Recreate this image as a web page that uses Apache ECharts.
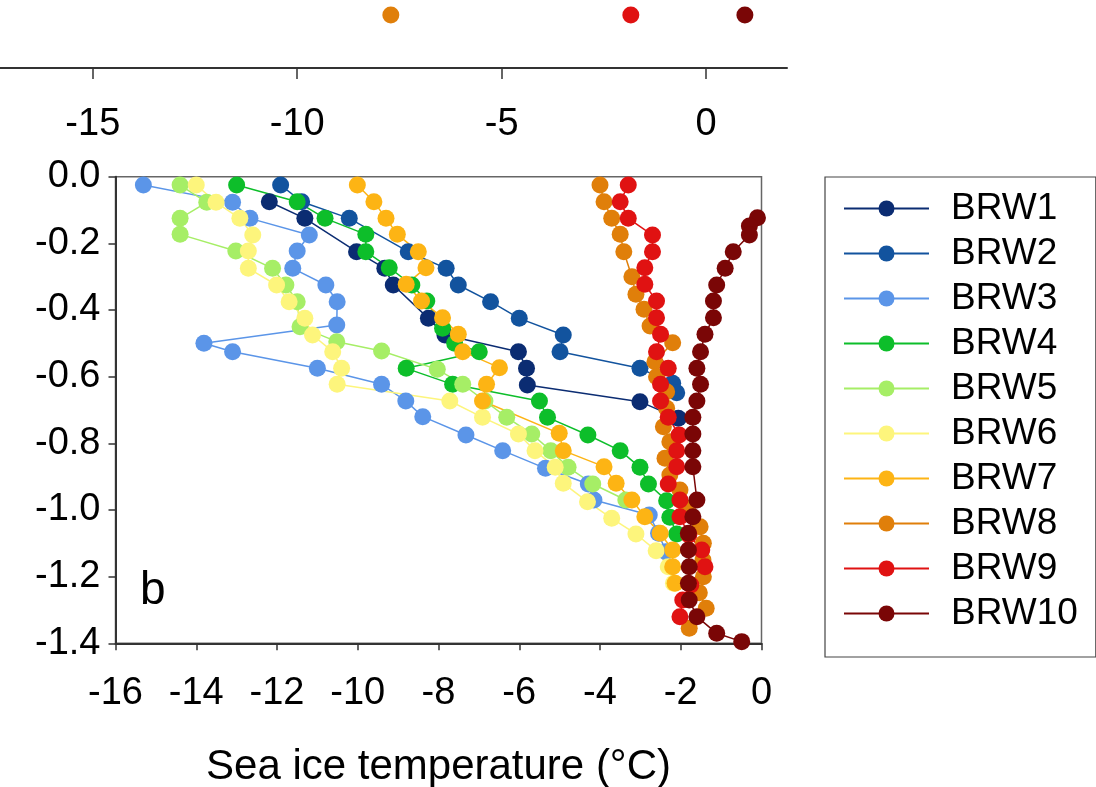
<!DOCTYPE html>
<html>
<head>
<meta charset="utf-8">
<script src="https://cdn.jsdelivr.net/npm/echarts@6/dist/echarts.min.js"></script>
<style>
html,body{margin:0;padding:0;background:#fff;}
#chart{width:1096px;height:787px;}
</style>
</head>
<body>
<div id="chart"></div>
<script>
// ---- data (sea ice temperature °C vs depth m) ----
const seriesNames = ['BRW1','BRW2','BRW3','BRW4','BRW5','BRW6','BRW7','BRW8','BRW9','BRW10'];
const seriesColors = ['#0B2C72','#12539E','#5B95E8','#0DBE2A','#A6EE66','#FDF57C','#FDB414','#E07F0A','#E01212','#7A0606'];

const BRW1_T = [-12.19,-11.31,-10.03,-9.33,-9.12,-8.25,-7.84,-6.02,-5.82,-5.80,-3.01,-2.06];
const BRW1_D = [-0.075,-0.125,-0.225,-0.275,-0.325,-0.425,-0.475,-0.525,-0.575,-0.625,-0.675,-0.725];

const BRW2_T = [-11.91,-11.39,-10.21,-8.75,-7.81,-7.51,-6.71,-6.00,-4.91,-4.99,-3.01,-2.20,-2.10];
const BRW2_D = [-0.025,-0.075,-0.125,-0.225,-0.275,-0.325,-0.375,-0.425,-0.475,-0.525,-0.575,-0.620,-0.648];

const BRW3_T = [-15.31,-13.10,-12.67,-11.20,-11.50,-11.61,-10.79,-10.51,-10.52,-13.81,-13.10,-11.00,-9.41,-8.81,-8.39,-7.32,-6.41,-5.35,-4.29,-4.15,-2.78,-2.55,-2.37];
const BRW3_D = [-0.025,-0.077,-0.125,-0.175,-0.223,-0.275,-0.325,-0.375,-0.445,-0.500,-0.525,-0.575,-0.623,-0.673,-0.720,-0.775,-0.822,-0.875,-0.922,-0.970,-1.015,-1.070,-1.125];

const BRW4_T = [-13.00,-11.50,-10.81,-9.80,-9.80,-9.22,-8.66,-8.29,-7.90,-7.60,-6.99,-8.80,-7.65,-5.50,-5.30,-4.30,-3.50,-3.01,-2.80,-2.35,-2.27,-2.10];
const BRW4_D = [-0.025,-0.075,-0.125,-0.173,-0.225,-0.273,-0.325,-0.373,-0.455,-0.500,-0.525,-0.575,-0.623,-0.673,-0.722,-0.775,-0.822,-0.872,-0.922,-0.972,-1.022,-1.072];

const BRW5_T = [-14.40,-13.74,-14.40,-14.40,-13.02,-12.11,-11.78,-11.50,-11.43,-10.52,-9.41,-8.03,-7.40,-6.85,-6.31,-5.69,-5.22,-4.79,-4.18,-3.36];
const BRW5_D = [-0.025,-0.077,-0.125,-0.173,-0.223,-0.275,-0.325,-0.375,-0.450,-0.495,-0.523,-0.578,-0.623,-0.673,-0.722,-0.772,-0.822,-0.872,-0.922,-0.970];

const BRW6_T = [-14.00,-13.51,-12.92,-12.60,-12.71,-12.71,-12.01,-11.70,-11.31,-11.12,-10.62,-10.40,-10.51,-7.72,-6.91,-6.02,-5.61,-5.11,-4.91,-4.31,-3.71,-3.11,-2.61,-2.31,-2.18];
const BRW6_D = [-0.025,-0.077,-0.125,-0.175,-0.223,-0.275,-0.325,-0.375,-0.425,-0.475,-0.525,-0.575,-0.623,-0.673,-0.722,-0.772,-0.822,-0.872,-0.920,-0.975,-1.025,-1.072,-1.122,-1.170,-1.220];

const BRW7_T = [-10.01,-9.60,-9.30,-9.02,-8.50,-8.31,-8.80,-8.42,-7.90,-7.51,-7.40,-6.49,-6.81,-6.91,-5.01,-4.91,-3.90,-3.60,-3.21,-2.89,-2.51,-2.20,-2.20,-2.14];
const BRW7_D = [-0.025,-0.075,-0.125,-0.173,-0.225,-0.273,-0.323,-0.373,-0.423,-0.473,-0.525,-0.573,-0.623,-0.673,-0.770,-0.822,-0.870,-0.920,-0.970,-1.020,-1.070,-1.120,-1.170,-1.220];

const BRW8_T = [-4.00,-3.90,-3.71,-3.50,-3.41,-3.21,-3.11,-2.91,-2.76,-2.20,-2.64,-2.60,-2.35,-2.35,-2.43,-2.27,-2.39,-2.27,-2.02,-1.85,-1.52,-1.44,-1.45,-1.44,-1.54,-1.37,-1.79];
const BRW8_D = [-0.025,-0.075,-0.125,-0.173,-0.225,-0.300,-0.353,-0.398,-0.448,-0.498,-0.555,-0.600,-0.645,-0.695,-0.750,-0.795,-0.845,-0.895,-0.940,-0.995,-1.050,-1.100,-1.150,-1.200,-1.248,-1.295,-1.355];

const BRW9_T = [-3.30,-3.50,-3.30,-2.70,-2.70,-2.89,-2.89,-2.60,-2.60,-2.50,-2.60,-2.31,-2.50,-2.50,-2.31,-2.04,-2.10,-2.10,-2.31,-2.02,-2.02,-1.80,-1.48,-1.40,-1.75,-1.95,-2.02];
const BRW9_D = [-0.025,-0.075,-0.125,-0.175,-0.225,-0.273,-0.323,-0.373,-0.423,-0.473,-0.525,-0.575,-0.623,-0.673,-0.722,-0.775,-0.822,-0.870,-0.922,-0.970,-1.020,-1.075,-1.120,-1.170,-1.225,-1.270,-1.320];

const BRW10_T = [-0.10,-0.30,-0.30,-0.70,-0.90,-1.11,-1.19,-1.19,-1.40,-1.51,-1.60,-1.51,-1.60,-1.70,-1.70,-1.70,-1.70,-1.60,-1.70,-1.81,-1.81,-1.79,-1.81,-1.79,-1.60,-1.11,-0.49];
const BRW10_D = [-0.123,-0.148,-0.175,-0.225,-0.275,-0.325,-0.373,-0.423,-0.473,-0.525,-0.575,-0.623,-0.673,-0.722,-0.772,-0.822,-0.870,-0.970,-1.020,-1.070,-1.120,-1.170,-1.220,-1.270,-1.320,-1.370,-1.395];

const allT = [BRW1_T,BRW2_T,BRW3_T,BRW4_T,BRW5_T,BRW6_T,BRW7_T,BRW8_T,BRW9_T,BRW10_T];
const allD = [BRW1_D,BRW2_D,BRW3_D,BRW4_D,BRW5_D,BRW6_D,BRW7_D,BRW8_D,BRW9_D,BRW10_D];

// panel (a) remnant at top: visible points of BRW8, BRW9, BRW10
const panelA_T = [-7.71,-1.84,0.95];
const panelA_Y = [0.78,0.78,0.78];
const panelA_colorIdx = [7,8,9];

// tick labels
const xTickValues = [-16,-14,-12,-10,-8,-6,-4,-2,0];
const yTickValues = [0.0,-0.2,-0.4,-0.6,-0.8,-1.0,-1.2,-1.4];
const topTickValues = [-15,-10,-5,0];

const FONT = 'Liberation Sans, Arial, Helvetica, sans-serif';

const chart = echarts.init(document.getElementById('chart'), null, {renderer:'canvas'});

const series = seriesNames.map((name,i)=>({
  name: name,
  type: 'line',
  xAxisIndex: 0, yAxisIndex: 0,
  data: allT[i].map((t,k)=>[t, allD[i][k]]),
  symbol: 'circle',
  symbolSize: 17,
  showSymbol: true,
  itemStyle: {color: seriesColors[i], opacity: 1},
  lineStyle: {color: seriesColors[i], width: 1.5},
  emphasis: {disabled: true},
  animation: false
}));

panelA_T.forEach((t,k)=>{
  const ci = panelA_colorIdx[k];
  series.push({
    name: 'a-' + seriesNames[ci],
    type: 'scatter',
    xAxisIndex: 1, yAxisIndex: 1,
    data: [[t, panelA_Y[k]]],
    symbol: 'circle',
    symbolSize: 17,
    itemStyle: {color: seriesColors[ci], opacity: 1},
    emphasis: {disabled: true},
    animation: false
  });
});

const option = {
  backgroundColor: '#ffffff',
  animation: false,
  textStyle: {fontFamily: FONT},
  grid: [
    {left: 115.5, right: 334.5, top: 176.7, bottom: 143.7, show: true, borderColor: '#666', borderWidth: 1.5,
      containLabel: false, outerBoundsMode: 'none'},
    {left: 0, top: 0, width: 787, height: 68, show: false, containLabel: false, outerBoundsMode: 'none'}
  ],
  xAxis: [
    {
      gridIndex: 0, type: 'value', min: -16, max: 0, interval: 2,
      position: 'bottom',
      name: 'Sea ice temperature (°C)',
      nameLocation: 'middle', nameGap: 103,
      nameTextStyle: {fontSize: 42, color: '#000', fontFamily: FONT},
      axisLine: {show: true, onZero: false, lineStyle: {color: '#333', width: 2}},
      axisTick: {show: true, inside: false, length: 7, lineStyle: {color: '#333', width: 1.5}},
      axisLabel: {fontSize: 38, color: '#000', margin: 31, fontFamily: FONT,
        customValues: xTickValues},
      splitLine: {show: false}
    },
    {
      gridIndex: 1, type: 'value', min: -17.27, max: 1.98,
      position: 'bottom',
      axisLine: {show: true, onZero: false, lineStyle: {color: '#333', width: 2}},
      axisTick: {show: true, inside: false, length: 11, customValues: topTickValues, lineStyle: {color: '#333', width: 1.5}},
      axisLabel: {fontSize: 38, color: '#000', margin: 38, fontFamily: FONT, customValues: topTickValues},
      splitLine: {show: false}
    }
  ],
  yAxis: [
    {
      gridIndex: 0, type: 'value', min: -1.4, max: 0, interval: 0.2,
      axisLine: {show: true, onZero: false, lineStyle: {color: '#333', width: 2}},
      axisTick: {show: true, inside: false, length: 7, lineStyle: {color: '#333', width: 1.5}},
      axisLabel: {fontSize: 38, color: '#000', margin: 15, fontFamily: FONT,
        customValues: yTickValues,
        formatter: v => (Math.abs(v) < 1e-9 ? '0.0' : v.toFixed(1))},
      splitLine: {show: false}
    },
    {gridIndex: 1, type: 'value', min: 0, max: 1, show: false}
  ],
  legend: {
    orient: 'vertical',
    left: 825, top: 177,
    data: seriesNames,
    padding: [13, 18, 25, 18],
    itemWidth: 85, itemHeight: 20, itemGap: 8,
    borderColor: '#444', borderWidth: 1.2,
    textStyle: {fontSize: 37, color: '#000', fontFamily: FONT, padding: [0,0,0,17]},
    selectedMode: false
  },
  graphic: [
    {type: 'text', left: 140, top: 568, style: {text: 'b', fontSize: 46, fill: '#000', fontFamily: FONT}}
  ],
  series: series
};

chart.setOption(option);
</script>
</body>
</html>
